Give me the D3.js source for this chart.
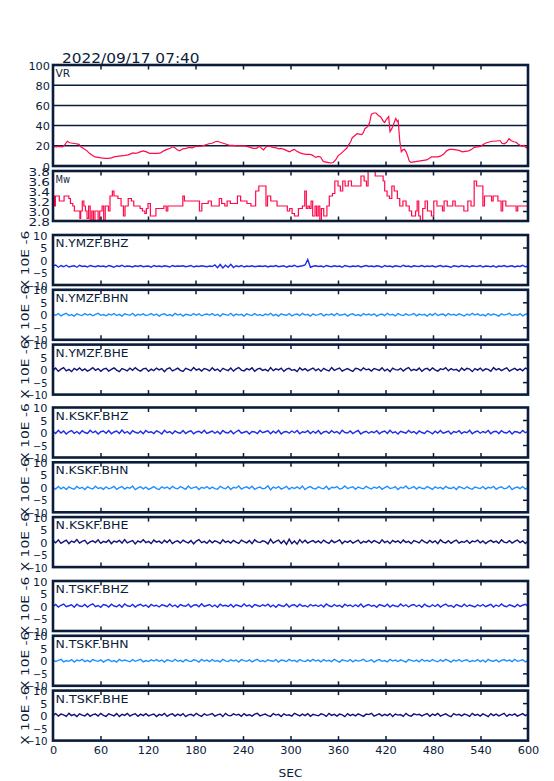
<!DOCTYPE html>
<html><head><meta charset="utf-8">
<script src="https://cdn.jsdelivr.net/npm/d3@7"></script>
<style>body{margin:0;background:#fff}</style>
</head><body><svg id="c" width="554" height="781"></svg>
<script>
const title = "2022/09/17 07:40";
const xTicks = [0,60,120,180,240,300,360,420,480,540,600];
const vrTicks = [0,20,40,60,80,100];
const mwTicks = [2.8,3.0,3.2,3.4,3.6,3.8];
const seisTicks = [-10,-5,0,5,10];
const seisUnit = "X 10E -6";
const channels = ["N.YMZF.BHZ","N.YMZF.BHN","N.YMZF.BHE","N.KSKF.BHZ","N.KSKF.BHN","N.KSKF.BHE","N.TSKF.BHZ","N.TSKF.BHN","N.TSKF.BHE"];

const vrSeries = [[0,19.5],[4,19],[8,19.5],[12,19],[15,21],[18,24.5],[21,23],[25,22.5],[29,22],[33,21.5],[35,19],[37,18],[40,16.5],[43,15],[46,12.5],[49,11],[53,9],[57,8.5],[61,8],[66,7.5],[70,7.5],[74,8],[77,9],[81,9.5],[86,10],[91,10.5],[95,11],[98,12],[101,13],[104,12.5],[107,13],[110,14],[114,15],[118,14],[122,12.5],[127,12.5],[132,12.5],[136,13],[140,15],[144,16.5],[148,17.5],[151,19],[154,18],[157,16],[160,15],[164,17],[168,17.5],[172,18.5],[176,18],[181,19.5],[185,19.5],[189,20],[193,21],[197,22],[201,22.5],[205,24],[208,24.5],[211,23.5],[215,22.5],[219,21.5],[223,20.5],[227,20.5],[232,20],[237,20],[242,20],[245,19.5],[249,18.5],[253,17.5],[257,17.5],[261,19.5],[264,17],[266,16],[268,18],[270,19.5],[274,19.5],[278,18.5],[282,18],[285,17],[288,17.5],[292,16.5],[296,15],[299,14],[302,15.5],[305,16.5],[308,14.5],[312,13],[316,12],[320,11.5],[324,11.5],[327,11],[330,9.5],[332,8.5],[335,9.5],[338,9],[341,5],[343,4],[347,3.5],[351,3],[354,3.5],[357,6],[360,10],[364,12.5],[368,15.5],[371,17.5],[373,20.5],[376,24],[378,28],[381,30],[384,32],[387,31.5],[390,31],[392,33],[394,37],[396,38],[398,39.5],[400,43],[402,51],[405,52.5],[408,52.5],[411,50],[414,48.5],[417,44.5],[419,43],[421,46],[424,49],[425.7,34],[428,37],[430,41],[432,45],[433,47],[435,44],[436,45],[438,25],[440,14],[442,16],[444,16.5],[446,14],[448,10],[450,5],[452,3.5],[456,4],[460,4.5],[464,5],[468,5.5],[472,6],[475,7.5],[478,9],[482,9],[486,9],[490,10],[494,12],[497,15],[501,16.5],[505,16.5],[509,16],[513,15.5],[517,14],[521,14.5],[525,15],[529,16.5],[532,18.5],[536,19],[540,19.5],[543,21],[546,22.5],[550,23.5],[554,24.5],[558,24.5],[562,25],[565,25],[567,22.5],[570,22],[573,23.5],[576,27],[579,25],[582,24],[585,23.5],[587,22],[590,20.5],[593,19.5],[595,20.5],[597,18.5],[600,17.5]];

const mwSeries = [[0,3.3],[2,3.1],[3,3.3],[6,3.3],[8,3.2],[10,3.2],[14,3.3],[20,3.25],[22,3.15],[25,3.1],[27,3.0],[30,3.0],[34,2.85],[35,3.0],[37,3.2],[39,3.1],[41,3.0],[43,2.85],[45,3.1],[47,2.8],[49,3.0],[51,2.8],[53,3.0],[57,2.8],[59,3.0],[62,3.1],[64,2.8],[66,3.1],[70,3.0],[72,3.3],[75,3.4],[77,3.3],[82,3.25],[86,3.1],[89,2.9],[91,3.1],[95,3.25],[99,3.2],[102,3.1],[106,3.1],[110,3.05],[113,3.0],[116,2.95],[118,3.05],[120,3.15],[123,2.9],[128,2.9],[130,3.05],[134,3.05],[140,3.1],[143,3.0],[145,3.1],[162,3.1],[164,3.3],[166,3.2],[175,3.2],[180,3.2],[185,3.0],[188,3.15],[192,3.15],[196,3.2],[200,3.1],[205,3.1],[210,3.25],[213,3.15],[217,3.1],[220,3.2],[224,3.15],[233,3.3],[237,3.2],[245,3.15],[250,3.1],[256,3.4],[260,3.5],[267,3.5],[269,3.1],[271,3.3],[275,3.2],[280,3.2],[283,3.1],[292,3.1],[296,3.0],[299,3.05],[302,2.95],[305,2.9],[310,3.05],[315,3.1],[318,3.4],[320,3.05],[322,3.1],[324,3.05],[326,3.2],[328,2.9],[331,3.1],[333,2.9],[335,3.1],[337,2.8],[339,3.05],[342,2.9],[346,3.1],[349,3.3],[353,3.35],[356,3.6],[360,3.5],[363,3.4],[366,3.6],[369,3.5],[373,3.6],[377,3.5],[383,3.5],[386,3.5],[389,3.7],[393,3.6],[396,3.5],[398,3.8],[405,3.8],[407,3.7],[413,3.7],[417,3.6],[419,3.4],[422,3.3],[425,3.25],[428,3.5],[431,3.4],[435,3.25],[438,3.1],[442,3.2],[446,3.1],[450,3.0],[453,2.9],[458,3.0],[460,3.2],[462,2.9],[464,2.8],[467,3.05],[470,3.2],[473,3.0],[478,2.9],[481,3.2],[485,3.1],[492,3.0],[494,3.2],[498,3.1],[505,3.2],[508,3.1],[516,3.1],[519,3.0],[524,3.2],[528,3.1],[532,3.6],[535,3.5],[541,3.5],[543,3.1],[545,3.3],[551,3.3],[554,3.2],[556,3.3],[562,3.2],[566,3.0],[568,3.2],[572,3.1],[585,3.0],[587,3.1],[594,3.1],[600,3.1]];

const ymzfBHZ = [-2.4,-2.0,-2.9,-2.2,-2.7,-2.1,-2.8,-2.5,-2.3,-2.9,-2.1,-2.6,-2.4,-2.8,-2.2,-2.5,-2.7,-2.3,-2.6,-2.4,
-2.8,-2.2,-2.5,-2.9,-2.3,-2.6,-2.1,-2.7,-2.4,-2.5,-2.8,-2.3,-2.6,-2.2,-2.7,-2.5,-2.4,-2.9,-2.2,-2.6,
-2.4,-2.7,-2.3,-2.5,-2.8,-2.2,-2.6,-2.4,-2.5,-2.3,-2.7,-2.5,-2.2,-2.8,-2.4,-2.6,-2.3,-2.5,-2.7,-2.4,
-2.6,-2.0,-3.1,-1.8,-3.2,-2.1,-2.9,-1.7,-3.0,-2.3,-2.7,-2.2,-2.8,-2.4,-2.6,-2.3,-2.7,-2.5,-2.4,-2.6,
-2.3,-2.8,-2.4,-2.6,-2.2,-2.7,-2.5,-2.3,-2.9,-2.4,-2.6,-2.1,-2.7,-2.5,-2.3,-2.0,0.2,-2.9,-2.5,-2.3,
-2.6,-2.4,-2.8,-2.2,-2.5,-2.7,-2.3,-2.6,-2.4,-2.9,-2.2,-2.5,-2.7,-2.4,-2.6,-2.3,-2.8,-2.5,-2.2,-2.6,
-2.4,-2.7,-2.3,-2.5,-2.9,-2.2,-2.6,-2.4,-2.8,-2.3,-2.5,-2.7,-2.1,-2.6,-2.4,-2.8,-2.3,-2.5,-2.6,-2.2,
-2.7,-2.4,-2.6,-2.3,-2.8,-2.5,-2.2,-2.7,-2.4,-2.6,-2.9,-2.3,-2.5,-2.7,-2.2,-2.6,-2.4,-2.8,-2.3,-2.5,
-2.6,-2.2,-2.8,-2.4,-2.5,-2.7,-2.3,-2.9,-2.4,-2.6,-2.2,-2.7,-2.5,-2.3,-2.8,-2.4,-2.6,-2.1,-2.7,-2.5];

const ymzfBHN = [0.3,-0.2,0.5,-0.4,0.2,0.6,-0.3,0.1,-0.5,0.4,0.0,-0.3,0.5,-0.1,0.3,-0.4,0.2,0.6,-0.2,0.1,
-0.4,0.3,-0.1,0.5,-0.3,0.2,-0.5,0.4,0.1,-0.2,0.6,-0.4,0.2,-0.1,0.4,-0.3,0.0,0.5,-0.2,0.3,
-0.5,0.2,0.4,-0.3,0.1,-0.4,0.6,-0.1,0.3,-0.5,0.2,0.0,-0.3,0.5,-0.2,0.4,-0.4,0.1,0.3,-0.1,
0.5,-0.3,0.2,-0.6,0.4,0.1,-0.2,0.6,-0.4,0.3,-0.1,0.2,-0.5,0.4,0.0,-0.3,0.5,-0.2,0.1,-0.4,
0.3,-0.1,0.6,-0.3,0.2,-0.5,0.4,0.0,-0.2,0.5,-0.4,0.1,0.3,-0.3,0.6,-0.1,0.2,-0.5,0.4,-0.2,
0.1,0.5,-0.4,0.2,-0.1,0.4,-0.3,0.6,-0.2,0.0,0.3,-0.5,0.2,0.4,-0.3,0.1,-0.4,0.5,-0.1,0.3,
-0.2,0.4,-0.5,0.1,0.3,-0.3,0.6,-0.1,0.2,-0.4,0.5,0.0,-0.3,0.4,-0.2,0.1,0.5,-0.4,0.3,-0.1,
0.2,-0.5,0.4,-0.2,0.6,-0.3,0.1,0.3,-0.4,0.5,-0.1,0.2,-0.3,0.4,0.0,-0.5,0.3,-0.2,0.6,-0.1,
0.4,-0.3,0.1,-0.4,0.5,-0.2,0.3,0.0,-0.5,0.4,-0.1,0.2,0.6,-0.3,0.1,-0.2,0.5,-0.4,0.2,0.3];

const ymzfBHE = [-0.3,0.6,-0.7,0.2,0.8,-0.5,0.1,-0.8,0.5,-0.2,0.7,-0.4,0.3,-0.6,0.0,0.8,-0.3,0.4,-0.7,0.2,
0.5,-0.6,0.1,0.7,-0.2,-0.8,0.4,0.0,-0.5,0.6,-0.3,0.8,-0.1,-0.6,0.3,0.5,-0.7,0.2,-0.4,0.6,
-0.1,0.4,-0.8,0.3,0.7,-0.5,0.0,0.6,-0.3,-0.7,0.5,0.1,-0.4,0.8,-0.2,0.3,-0.6,0.4,0.1,-0.5,
0.7,-0.3,0.2,-0.8,0.5,0.0,-0.4,0.6,-0.6,0.3,0.8,-0.2,-0.5,0.4,-0.1,0.7,-0.7,0.2,0.5,-0.3,
0.1,-0.6,0.8,-0.4,0.3,-0.1,0.6,-0.7,0.2,0.5,-0.3,0.0,-0.8,0.7,-0.2,0.4,-0.5,0.1,0.6,-0.4,
0.3,-0.7,0.5,-0.1,-0.5,0.8,-0.3,0.2,0.6,-0.6,0.0,0.4,-0.2,-0.7,0.5,0.3,-0.4,0.7,-0.1,0.2,
-0.6,0.4,0.1,-0.3,0.7,-0.5,0.2,-0.8,0.6,0.0,-0.2,0.5,-0.6,0.3,0.8,-0.4,0.1,-0.3,0.6,-0.7,
0.2,0.5,-0.4,0.7,-0.1,-0.6,0.3,0.0,0.8,-0.5,0.4,-0.2,0.1,-0.7,0.6,-0.3,0.5,0.2,-0.8,0.4,
-0.2,0.6,-0.5,0.3,0.1,-0.7,0.8,-0.1,0.4,-0.4,0.2,0.7,-0.6,0.0,0.5,-0.3,0.3,-0.5,0.6,0.1];

const kskfBHZ = [0.5,-0.4,0.9,-0.2,0.6,-0.6,0.3,0.8,-0.3,0.4,-0.5,0.7,0.0,-0.4,0.9,-0.1,0.5,-0.6,0.3,0.6,
-0.3,0.8,-0.5,0.2,0.6,-0.4,1.0,-0.2,0.4,-0.6,0.7,0.1,-0.3,0.5,-0.5,0.8,0.0,0.3,-0.4,0.7,
0.2,-0.6,0.9,-0.1,0.4,-0.5,0.6,0.0,-0.3,0.8,-0.4,0.3,0.7,-0.5,0.2,0.5,-0.2,0.9,-0.4,0.1,
0.6,-0.3,0.4,-0.6,0.8,0.0,-0.2,0.7,-0.5,0.3,0.9,-0.3,0.1,0.5,-0.6,0.4,0.2,-0.4,0.8,-0.1,
0.3,0.7,-0.5,0.5,-0.2,0.9,-0.6,0.2,0.4,-0.3,0.6,-0.1,0.8,-0.5,0.3,0.0,0.7,-0.4,0.5,-0.2,
0.8,-0.6,0.2,0.5,-0.3,0.7,-0.1,0.4,-0.5,0.9,0.0,-0.2,0.6,-0.4,0.3,0.8,-0.6,0.1,0.5,-0.3,
0.4,-0.1,0.7,-0.5,0.2,0.6,-0.4,0.9,-0.2,0.3,-0.6,0.5,0.1,-0.3,0.8,-0.1,0.4,-0.5,0.6,0.0,
-0.4,0.7,0.2,-0.5,0.5,-0.2,0.8,-0.3,0.1,0.6,-0.6,0.4,0.0,0.7,-0.4,0.3,-0.1,0.9,-0.5,0.2,
0.6,-0.3,0.4,-0.1,0.8,-0.5,0.3,0.5,-0.4,0.7,0.0,-0.2,0.6,-0.6,0.4,0.2,-0.3,0.8,-0.1,0.5];

const kskfBHN = [-0.1,-0.7,0.3,-0.6,0.1,-0.9,0.2,-0.4,-0.8,0.3,-0.5,0.0,-0.9,0.2,-0.3,-0.7,0.4,-0.5,-0.1,-0.8,
0.2,-0.6,-0.2,0.4,-0.8,-0.1,0.3,-0.7,0.0,-0.4,0.5,-0.9,-0.2,0.2,-0.6,0.1,-0.8,-0.3,0.3,-0.5,
-0.9,0.2,-0.4,0.1,-0.7,0.4,-0.3,-0.6,0.3,-0.2,-0.8,0.5,-0.5,-0.1,0.2,-0.9,0.0,-0.4,0.3,-0.6,
0.1,-0.5,-0.8,0.4,-0.2,-0.6,0.3,-0.9,0.0,-0.3,0.5,-0.7,-0.1,0.2,-0.5,0.4,-0.8,-0.2,0.1,-0.6,
-0.3,0.6,-1.0,0.1,-0.4,0.3,-0.7,-0.2,0.4,-0.8,0.0,-0.5,0.2,-0.6,0.5,-0.9,-0.1,0.3,-0.4,-0.7,
0.2,-0.3,-0.6,0.4,-0.9,0.0,-0.2,0.3,-0.7,-0.4,0.5,-0.5,-0.1,0.2,-0.8,0.1,-0.3,-0.6,0.4,-0.2,
-0.7,0.1,-0.4,0.3,-0.8,-0.1,0.4,-0.5,-0.2,0.2,-0.9,0.0,-0.3,0.5,-0.6,-0.2,0.3,-0.7,0.1,-0.4,
-0.6,0.3,-0.2,-0.8,0.2,-0.4,0.0,-0.7,0.4,-0.3,-0.5,0.1,-0.9,0.3,-0.1,-0.6,0.2,-0.4,-0.8,0.1,
-0.2,-0.5,0.3,-0.7,0.0,-0.3,0.4,-0.8,-0.1,0.2,-0.6,-0.3,0.5,-0.9,-0.2,0.1,-0.5,0.3,-0.7,-0.1];

const kskfBHE = [0.6,-0.3,0.9,-0.5,0.2,0.8,-0.6,0.4,-0.1,1.0,-0.4,0.3,0.7,-0.7,0.1,0.5,-0.2,0.9,-0.5,0.3,
-0.1,0.8,-0.6,0.4,0.0,0.7,-0.4,1.0,-0.3,0.2,0.6,-0.7,0.5,-0.1,0.9,-0.2,0.3,-0.6,0.8,0.0,
0.4,-0.5,0.7,-0.2,0.9,-0.6,0.2,0.5,-0.4,0.8,0.1,-0.3,0.6,-0.7,0.4,1.0,-0.2,0.3,-0.5,0.7,
-0.3,0.5,0.1,-0.6,0.9,-0.1,0.4,-0.4,0.7,0.0,-0.5,0.8,0.2,-0.3,0.6,-0.6,0.9,0.1,-0.2,0.5,
0.2,-0.7,1.1,-0.4,0.3,0.8,-0.5,0.6,-0.9,1.2,-0.6,0.4,-0.8,1.0,-0.3,0.7,-0.4,0.2,0.6,-0.2,
0.5,-0.4,0.8,0.0,-0.5,0.7,-0.2,0.3,0.9,-0.6,0.4,-0.1,0.6,-0.4,0.2,0.8,-0.5,0.3,-0.1,0.7,
-0.3,0.6,0.1,-0.5,0.9,-0.2,0.4,-0.6,0.7,0.0,0.5,-0.4,0.8,-0.1,0.3,-0.6,0.6,0.2,-0.3,0.9,
0.1,-0.4,0.7,-0.2,0.5,-0.6,0.9,0.0,-0.3,0.6,-0.5,0.3,0.8,-0.4,0.2,-0.1,0.7,-0.5,0.4,0.1,
0.8,-0.3,0.5,-0.6,0.2,0.7,-0.1,0.4,-0.5,0.9,0.0,-0.3,0.6,-0.4,0.3,0.8,-0.2,0.5,-0.6,0.4];

const tskfBHZ = [-0.2,0.6,-0.4,0.3,0.8,-0.3,0.1,0.5,-0.5,0.7,0.0,-0.2,0.6,-0.4,0.4,0.9,-0.3,0.2,-0.5,0.6,
0.3,-0.4,0.7,0.0,-0.3,0.5,-0.5,0.8,0.1,-0.2,0.6,-0.4,0.3,0.7,-0.1,0.4,-0.5,0.6,0.0,0.3,
-0.4,0.5,0.2,-0.3,0.8,-0.2,0.4,-0.5,0.6,0.1,-0.1,0.7,-0.4,0.3,0.5,-0.3,0.9,-0.2,0.2,0.6,
-0.3,0.4,-0.5,0.7,0.0,0.3,-0.2,0.6,-0.4,0.5,0.1,-0.3,0.8,-0.1,0.4,-0.5,0.6,0.2,-0.2,0.5,
0.0,0.7,-0.3,0.4,-0.5,0.6,0.1,-0.2,0.8,-0.4,0.3,0.5,-0.3,0.7,-0.1,0.2,-0.4,0.6,0.0,0.4,
-0.2,0.5,-0.4,0.8,0.1,-0.3,0.6,-0.1,0.3,-0.5,0.7,0.0,0.4,-0.3,0.5,-0.2,0.8,-0.4,0.2,0.6,
-0.1,0.3,-0.5,0.6,0.2,-0.2,0.7,-0.4,0.4,0.0,-0.3,0.8,-0.1,0.5,-0.4,0.3,0.6,-0.2,0.4,-0.5,
0.7,0.0,-0.3,0.5,-0.2,0.6,-0.4,0.3,0.8,-0.1,0.2,-0.5,0.6,0.1,-0.3,0.7,-0.2,0.4,0.0,-0.4,
0.5,-0.1,0.6,-0.3,0.2,0.7,-0.4,0.4,-0.2,0.8,0.0,-0.3,0.5,0.1,-0.4,0.6,-0.2,0.3,0.7,-0.1];

const tskfBHN = [0.4,-0.3,0.2,0.6,-0.4,0.1,-0.2,0.5,-0.5,0.3,0.0,0.6,-0.3,0.2,-0.4,0.5,0.1,-0.2,0.4,-0.5,
0.2,0.5,-0.3,0.1,-0.5,0.6,-0.1,0.3,0.0,-0.4,0.5,-0.2,0.2,0.6,-0.4,0.1,-0.3,0.4,-0.1,0.5,
-0.2,0.3,-0.5,0.4,0.1,-0.3,0.6,-0.2,0.2,-0.4,0.5,0.0,-0.3,0.4,0.2,-0.5,0.6,-0.1,0.3,-0.3,
0.5,-0.2,0.1,-0.4,0.6,0.0,-0.3,0.4,-0.1,0.3,-0.5,0.5,0.1,-0.2,0.4,-0.4,0.2,0.6,-0.3,0.1,
-0.4,0.4,0.0,-0.2,0.5,-0.5,0.3,0.1,-0.3,0.6,-0.1,0.2,-0.4,0.5,0.0,-0.3,0.4,-0.2,0.6,-0.1,
0.3,-0.4,0.5,-0.1,0.2,-0.3,0.6,0.0,-0.5,0.4,0.1,-0.2,0.5,-0.4,0.3,-0.1,0.2,0.6,-0.3,0.0,
0.4,-0.5,0.2,0.5,-0.2,0.1,-0.4,0.6,-0.1,0.3,-0.3,0.4,0.0,-0.5,0.5,0.2,-0.2,0.3,-0.4,0.6,
-0.1,0.2,-0.3,0.5,0.0,-0.4,0.4,-0.2,0.6,0.1,-0.5,0.3,-0.1,0.5,-0.3,0.2,0.4,-0.4,0.1,-0.2,
0.5,-0.3,0.3,-0.5,0.6,0.0,-0.2,0.4,-0.4,0.2,0.5,-0.1,0.3,-0.3,0.6,-0.2,0.1,0.4,-0.4,0.2];

const tskfBHE = [0.1,0.8,-0.2,0.6,0.3,-0.3,0.9,0.0,0.5,-0.4,0.7,0.2,-0.1,0.8,-0.3,0.4,0.6,-0.2,0.9,0.1,
-0.3,0.7,0.3,-0.1,0.8,-0.4,0.5,0.1,0.9,-0.2,0.4,0.7,-0.3,0.6,0.0,0.8,-0.1,0.3,0.6,-0.4,
0.5,0.1,0.9,-0.3,0.4,0.7,-0.2,0.6,0.0,0.8,-0.4,0.3,0.5,-0.1,0.9,0.2,-0.3,0.7,0.1,0.4,
0.8,-0.2,0.3,0.6,-0.4,0.9,0.1,-0.1,0.7,0.2,0.5,-0.3,0.8,0.0,0.4,-0.2,0.6,0.9,-0.1,0.3,
0.6,0.0,-0.3,0.8,0.2,0.5,-0.4,0.7,0.1,0.3,-0.2,0.9,0.4,-0.1,0.6,0.0,0.8,-0.3,0.5,0.2,
-0.1,0.7,0.4,-0.3,0.9,0.1,0.5,-0.2,0.6,0.3,-0.4,0.8,0.0,0.5,-0.1,0.7,0.2,-0.3,0.6,0.4,
0.9,-0.2,0.3,0.7,-0.1,0.5,0.0,0.8,-0.4,0.6,0.2,0.4,-0.3,0.9,0.1,-0.2,0.7,0.3,0.5,-0.1,
0.4,0.8,-0.3,0.6,0.1,0.9,-0.2,0.3,0.7,0.0,-0.4,0.8,0.2,0.5,-0.1,0.6,0.3,-0.3,0.9,0.1,
0.5,-0.2,0.7,0.2,-0.4,0.8,0.0,0.6,-0.1,0.4,0.9,-0.3,0.5,0.1,0.7,-0.2,0.3,0.8,0.0,0.6];

const traces = [ymzfBHZ, ymzfBHN, ymzfBHE, kskfBHZ, kskfBHN, kskfBHE, tskfBHZ, tskfBHN, tskfBHE];

// ---------- styles / layout ----------
const NAVY = "#0b1c3b";
const RED = "#ff0a4a";
const compColor = {BHZ:"#1c2ce8", BHN:"#1e8fff", BHE:"#12127a"};
const FONT = '"DejaVu Sans", sans-serif';
const X0 = 53, X1 = 528;
const svg = d3.select("#c");
const x = d3.scaleLinear().domain([0,600]).range([X0,X1]);
const innerX = xTicks.slice(1,-1);

function fit(sel, pitch){
  sel.each(function(){
    const s = this.textContent;
    d3.select(this).attr("textLength", s.length*pitch).attr("lengthAdjust","spacingAndGlyphs");
  });
}
function styleAxis(g){
  g.select(".domain").remove();
  g.selectAll("line").attr("stroke",NAVY).attr("stroke-width",1.5);
  g.selectAll("text").attr("fill",NAVY).attr("font-family",FONT).attr("font-size",10);
}

function frame(top, bottom, y, opts){
  const g = svg.append("g");
  // inner ticks top & bottom
  g.append("g").attr("transform",`translate(0,${top})`)
    .call(d3.axisBottom(x).tickValues(innerX).tickSize(4.5).tickFormat(""))
    .call(styleAxis);
  g.append("g").attr("transform",`translate(0,${bottom})`)
    .call(d3.axisTop(x).tickValues(innerX).tickSize(4.5).tickFormat(""))
    .call(styleAxis);
  if (opts.rightTicks){
    g.append("g").attr("transform",`translate(${X1},0)`)
      .call(d3.axisLeft(y).tickValues(opts.rightTicks).tickSize(5).tickFormat(""))
      .call(styleAxis);
  }
  // left labels
  const la = g.append("g").attr("transform",`translate(${X0},0)`)
    .call(d3.axisLeft(y).tickValues(opts.labels).tickSize(0).tickPadding(opts.pad).tickFormat(opts.fmt))
    .call(styleAxis);
  la.selectAll("text").attr("dy","0.4em").call(fit,7.2);
  g.append("rect").attr("x",X0).attr("y",top).attr("width",X1-X0).attr("height",bottom-top)
    .attr("fill","none").attr("stroke",NAVY).attr("stroke-width",2.6);
  g.append("text").attr("x",X0+2.5).attr("y",top+12).attr("fill",NAVY)
    .attr("font-family",FONT).attr("font-size",10).text(opts.name).call(fit,7.3);
  return g;
}

// title
svg.append("text").attr("x",62).attr("y",62.5).attr("fill",NAVY)
  .attr("font-family",FONT).attr("font-size",13.7).text(title).call(fit,8.6);

// VR panel
{
  const top=65, bottom=166;
  const y = d3.scaleLinear().domain([0,100]).range([bottom,top]);
  svg.append("g").selectAll("line").data(vrTicks.slice(1,-1)).join("line")
    .attr("x1",X0).attr("x2",X1).attr("y1",d=>y(d)).attr("y2",d=>y(d))
    .attr("stroke",NAVY).attr("stroke-width",1.5);
  svg.append("path").datum(vrSeries)
    .attr("d", d3.line().x(d=>x(d[0])).y(d=>y(d[1])))
    .attr("fill","none").attr("stroke",RED).attr("stroke-width",1.2);
  frame(top,bottom,y,{labels:vrTicks, pad:3, fmt:d3.format("d"), name:"VR"});
}
// Mw panel
{
  const top=171, bottom=221;
  const y = d3.scaleLinear().domain([2.8,3.8]).range([bottom,top]);
  svg.append("path").datum(mwSeries)
    .attr("d", d3.line().curve(d3.curveStepAfter).x(d=>x(d[0])).y(d=>y(d[1])))
    .attr("fill","none").attr("stroke",RED).attr("stroke-width",1.2);
  frame(top,bottom,y,{labels:mwTicks, pad:3, fmt:d3.format(".1f"), name:"Mw", rightTicks:[3.0,3.2,3.4,3.6]});
}
// seismogram panels
const groupTops = [235, 407.5, 581];
const panelStep = 54.8, panelH = 50;
traces.forEach((tr,i)=>{
  const top = groupTops[Math.floor(i/3)] + (i%3)*panelStep;
  const bottom = top + panelH;
  const y = d3.scaleLinear().domain([-10,10]).range([bottom,top]);
  const dt = 600/(tr.length-1);
  const comp = channels[i].split(".")[2];
  svg.append("path").datum(tr)
    .attr("d", d3.line().x((d,k)=>x(k*dt)).y(d=>y(d)))
    .attr("fill","none").attr("stroke",compColor[comp]).attr("stroke-width",1.4);
  frame(top,bottom,y,{labels:seisTicks, pad:5.5, fmt:d3.format("d"), name:channels[i], rightTicks:[-5,5]});
  svg.append("text").attr("transform",`translate(29,${(top+bottom)/2}) rotate(-90)`)
    .attr("text-anchor","middle").attr("fill",NAVY).attr("font-family",FONT).attr("font-size",10)
    .text(seisUnit).call(fit,7.3);
});

// x axis labels
const lastBottom = groupTops[2] + 2*panelStep + panelH;
const xa = svg.append("g").attr("transform",`translate(0,${lastBottom})`)
  .call(d3.axisBottom(x).tickValues(xTicks).tickSize(0).tickPadding(6).tickFormat(d3.format("d")))
  .call(styleAxis);
xa.selectAll("text").call(fit,7.2);
svg.append("text").attr("x",(X0+X1)/2).attr("y",777).attr("text-anchor","middle").attr("fill",NAVY)
  .attr("font-family",FONT).attr("font-size",10).text("SEC").call(fit,8);
</script></body></html>
